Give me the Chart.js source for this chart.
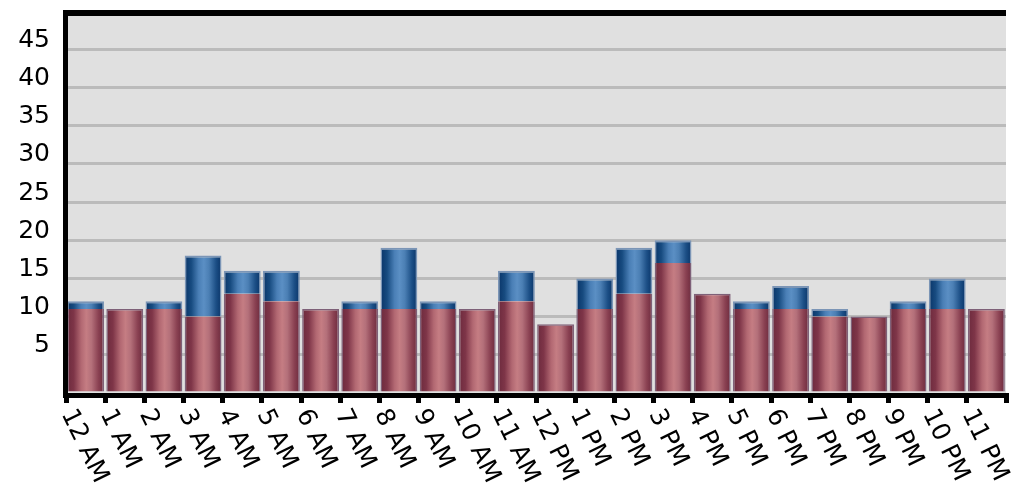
<!DOCTYPE html>
<html>
<head>
<meta charset="utf-8">
<title>Hourly bars</title>
<script src="https://cdn.jsdelivr.net/npm/chart.js@4/dist/chart.umd.min.js"></script>
<style>
  html, body { margin: 0; padding: 0; background: #fff; }
  #wrap { width: 1018px; height: 498px; position: relative; }
</style>
</head>
<body>
<div id="wrap"><canvas id="chart"></canvas></div>
<script>
/* ============================================================
   Hourly stacked bars
   ============================================================ */

// ── Data ───────────────────────────────────────────────────
const hours = [
  '12 AM', '1 AM', '2 AM', '3 AM', '4 AM', '5 AM', '6 AM', '7 AM',
  '8 AM', '9 AM', '10 AM', '11 AM', '12 PM', '1 PM', '2 PM', '3 PM',
  '4 PM', '5 PM', '6 PM', '7 PM', '8 PM', '9 PM', '10 PM', '11 PM'
];
const lowerVals = [11, 11, 11, 10, 13, 12, 11, 11, 11, 11, 11, 12, 9, 11, 13, 17, 13, 11, 11, 10, 10, 11, 11, 11];
const upperVals = [1, 0, 1, 8, 3, 4, 0, 1, 8, 1, 0, 4, 0, 4, 6, 3, 0, 1, 3, 1, 0, 1, 4, 0];
const yTicks    = [5, 10, 15, 20, 25, 30, 35, 40, 45];

(function () {
  'use strict';

  const BAR_PCT = 0.94;
  const FONT = '"DejaVu Sans", Verdana, sans-serif';

  // cylinder-ish shading across each bar
  const redStops = [
    [0, '#6c2a3d'], [0.18, '#7e3548'], [0.38, '#b26872'],
    [0.52, '#c57d83'], [0.66, '#b4707a'], [0.85, '#8a4152'], [1, '#6c2a3d']
  ];
  const blueStops = [
    [0, '#093468'], [0.18, '#174b80'], [0.38, '#4a7fb6'],
    [0.52, '#5b8fc4'], [0.66, '#4b7fb4'], [0.85, '#1c4f86'], [1, '#093468']
  ];

  function barGradient(ctx, stops) {
    const chart = ctx.chart;
    const xs = chart.scales.x;
    if (!chart.chartArea || !xs) return stops[3][1];
    const cx = xs.getPixelForValue(ctx.dataIndex);
    const half = (xs.width / hours.length) * BAR_PCT / 2;
    const g = chart.ctx.createLinearGradient(cx - half, 0, cx + half, 0);
    stops.forEach(([p, c]) => g.addColorStop(p, c));
    return g;
  }

  // ── Frame, background and rotated hour labels ──────────────
  const framePlugin = {
    id: 'frame',
    beforeDraw(chart) {
      const { ctx, chartArea: a } = chart;
      ctx.save();
      ctx.fillStyle = '#fff';
      ctx.fillRect(0, 0, chart.width, chart.height);
      ctx.fillStyle = '#e0e0e0';
      ctx.fillRect(a.left, a.top, a.right - a.left, a.bottom - a.top);
      ctx.restore();
    },
    afterDatasetsDraw(chart) {
      const { ctx, chartArea: a } = chart;
      ctx.save();
      ctx.fillStyle = '#000';
      ctx.fillRect(a.left - 3, 10, a.right - a.left + 3, 6);    // top
      ctx.fillRect(a.left - 3, 10, 5, a.bottom - 10 + 5);       // left
      ctx.fillRect(a.left - 3, a.bottom, a.right - a.left + 3, 5); // bottom
      ctx.restore();
    },
    afterDraw(chart) {
      const { ctx, chartArea: a } = chart;
      const xs = chart.scales.x;
      const step = xs.width / hours.length;
      ctx.save();
      ctx.fillStyle = '#000';
      ctx.font = '25px ' + FONT;
      ctx.textAlign = 'left';
      ctx.textBaseline = 'middle';
      hours.forEach((h, i) => {
        const cx = xs.getPixelForValue(i);
        ctx.save();
        ctx.translate(cx - step / 2 + 1, a.bottom + 18);
        ctx.rotate(64 * Math.PI / 180);
        ctx.fillText(h, 0, 0);
        ctx.restore();
      });
      ctx.restore();
    }
  };

  // ── Chart ──────────────────────────────────────────────────
  new Chart(document.getElementById('chart'), {
    type: 'bar',
    data: {
      labels: hours,
      datasets: [
        {
          label: 'Series 1',
          data: lowerVals,
          backgroundColor: c => barGradient(c, redStops),
          borderColor: '#7e6078',
          // only show a top edge where nothing is stacked above
          borderWidth: c => ({ left: 1.5, right: 1.5, top: upperVals[c.dataIndex] > 0 ? 0 : 1.5 }),
          borderSkipped: 'bottom'
        },
        {
          label: 'Series 2',
          data: upperVals,
          backgroundColor: c => barGradient(c, blueStops),
          borderColor: '#7b95b6',
          borderWidth: c => (upperVals[c.dataIndex] > 0 ? { left: 1.5, right: 1.5, top: 2 } : 0),
          borderSkipped: 'bottom'
        }
      ]
    },
    options: {
      responsive: true,
      maintainAspectRatio: false,
      animation: false,
      datasets: { bar: { barPercentage: BAR_PCT, categoryPercentage: 1 } },
      layout: { padding: { top: 11, right: 12, left: 0, bottom: 0 } },
      plugins: {
        legend: { display: false },
        tooltip: { enabled: false }
      },
      scales: {
        x: {
          stacked: true,
          border: { display: false },
          grid: {
            offset: true,
            drawOnChartArea: false,
            drawTicks: true,
            tickLength: 10,
            tickWidth: 5,
            tickColor: '#000'
          },
          ticks: { display: false },
          afterFit: s => { s.height = 105; s.paddingLeft = 0; s.paddingRight = 0; }
        },
        y: {
          stacked: true,
          min: 0,
          max: 50,
          border: { display: false },
          afterBuildTicks: s => { s.ticks = [0].concat(yTicks, [50]).map(v => ({ value: v })); },
          afterFit: s => { s.width = 66; s.paddingTop = 0; s.paddingBottom = 0; },
          grid: {
            drawTicks: false,
            color: c => (c.tick && (c.tick.value === 0 || c.tick.value === 50)) ? 'rgba(0,0,0,0)' : '#bbbbbb',
            lineWidth: 3
          },
          ticks: {
            padding: 16,
            labelOffset: -9,
            color: '#000',
            font: { family: FONT, size: 25 },
            callback: v => yTicks.includes(v) ? String(v) : ''
          }
        }
      }
    },
    plugins: [framePlugin]
  });
})();
</script>
</body>
</html>
